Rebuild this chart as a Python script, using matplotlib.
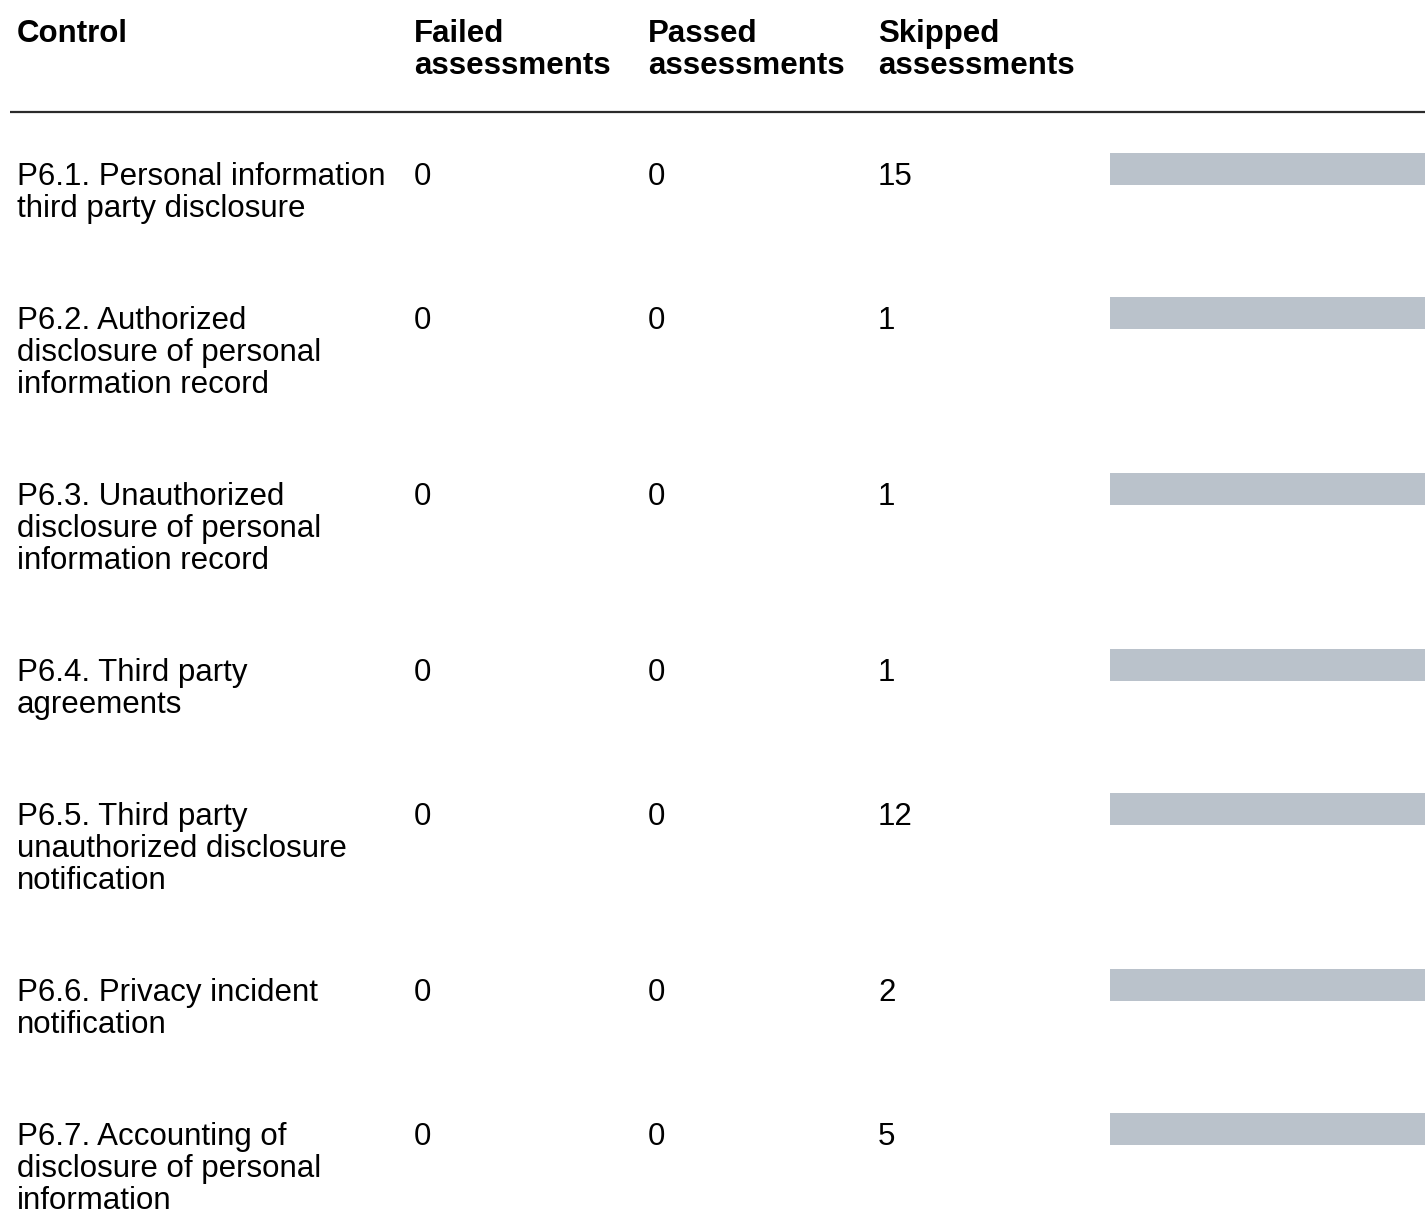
import matplotlib.pyplot as plt
from matplotlib.patches import Rectangle

# table content
headers = ["Control", "Failed\nassessments", "Passed\nassessments", "Skipped\nassessments"]
controls = [
    "P6.1. Personal information\nthird party disclosure",
    "P6.2. Authorized\ndisclosure of personal\ninformation record",
    "P6.3. Unauthorized\ndisclosure of personal\ninformation record",
    "P6.4. Third party\nagreements",
    "P6.5. Third party\nunauthorized disclosure\nnotification",
    "P6.6. Privacy incident\nnotification",
    "P6.7. Accounting of\ndisclosure of personal\ninformation",
]
failed = [0, 0, 0, 0, 0, 0, 0]
passed = [0, 0, 0, 0, 0, 0, 0]
skipped = [15, 1, 1, 1, 12, 2, 5]

# layout in pixels
W, H = 1425, 1209
col_x = [17, 414, 648, 878]
bar_x0, bar_x1 = 1110, 1425
line_h = 32
row_gap = 80
font_size = 22.5
bar_color = "#bac2cb"

plt.rcParams['font.family'] = ['Liberation Sans', 'DejaVu Sans']

fig = plt.figure(figsize=(W / 100, H / 100), dpi=100)
ax = fig.add_axes([0, 0, 1, 1])
ax.set_xlim(0, W)
ax.set_ylim(H, 0)
ax.axis("off")


def draw_lines(x, baseline, text, bold=False):
    for i, line in enumerate(text.split("\n")):
        ax.text(x, baseline + i * line_h, line, fontsize=font_size,
                fontweight="bold" if bold else "normal",
                ha="left", va="baseline", color="black")


for x, h in zip(col_x, headers):
    draw_lines(x, 42, h, bold=True)

ax.plot([10, W], [112, 112], color="#2b2b2b", lw=1.6, solid_capstyle="butt")

baseline = 185
for label, f, p, s in zip(controls, failed, passed, skipped):
    draw_lines(col_x[0], baseline, label)
    draw_lines(col_x[1], baseline, str(f))
    draw_lines(col_x[2], baseline, str(p))
    draw_lines(col_x[3], baseline, str(s))
    total = f + p + s
    frac = s / total if total else 0
    ax.add_patch(Rectangle((bar_x0, baseline - 32), (bar_x1 - bar_x0) * frac, 32,
                           facecolor=bar_color, edgecolor="none"))
    n_lines = label.count("\n") + 1
    baseline += n_lines * line_h + row_gap

fig.savefig("out.png", dpi=100)
